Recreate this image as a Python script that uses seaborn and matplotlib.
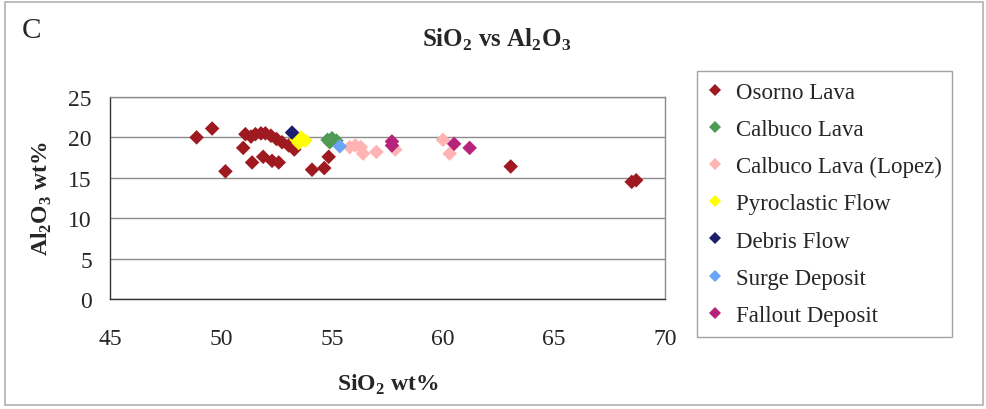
import matplotlib
matplotlib.use("Agg")
import matplotlib.pyplot as plt
import seaborn as sns
import pandas as pd
from matplotlib.patches import Rectangle

# ---- data ----
osorno_x = [48.9, 49.6, 50.2, 51.0, 51.1, 51.35, 51.55, 51.8, 52.0, 52.25, 52.5, 52.75,
            53.05, 53.3, 53.2, 51.4, 51.9, 52.3, 52.6, 54.1, 54.65, 54.85, 63.05, 68.5, 68.7]
osorno_y = [20.0, 21.1, 15.8, 18.7, 20.4, 20.1, 20.4, 20.5, 20.5, 20.2, 19.8, 19.4,
            19.0, 18.5, 19.2, 16.9, 17.6, 17.1, 16.9, 16.0, 16.2, 17.6, 16.4, 14.5, 14.7]
calbuco_x = [54.8, 55.0, 55.2, 54.9]
calbuco_y = [19.7, 19.9, 19.6, 19.4]
lopez_x = [55.8, 56.05, 56.3, 56.4, 57.0, 57.85, 60.0, 60.3]
lopez_y = [18.8, 19.0, 18.8, 18.0, 18.2, 18.5, 19.7, 18.0]
pyro_x = [53.4, 53.6, 53.8, 53.5]
pyro_y = [19.7, 20.0, 19.6, 19.3]
debris_x = [53.2]
debris_y = [20.6]
surge_x = [55.35]
surge_y = [18.9]
fallout_x = [57.7, 57.7, 60.5, 61.2]
fallout_y = [19.5, 19.0, 19.2, 18.7]

series = ["Osorno Lava", "Calbuco Lava", "Calbuco Lava (Lopez)", "Pyroclastic Flow",
          "Debris Flow", "Surge Deposit", "Fallout Deposit"]
colors = ["#9e1a20", "#4f9a55", "#ffb3b3", "#ffff00", "#1b1f6e", "#6aa6f5", "#b5237a"]
xs = [osorno_x, calbuco_x, lopez_x, pyro_x, debris_x, surge_x, fallout_x]
ys = [osorno_y, calbuco_y, lopez_y, pyro_y, debris_y, surge_y, fallout_y]

rows = []
for name, xv, yv in zip(series, xs, ys):
    for a, b in zip(xv, yv):
        rows.append({"SiO2": a, "Al2O3": b, "Series": name})
df = pd.DataFrame(rows)

sns.set_style("white")
plt.rcParams["font.family"] = ["Liberation Serif", "DejaVu Serif"]
plt.rcParams["mathtext.fontset"] = "custom"
plt.rcParams["mathtext.rm"] = "Liberation Serif"
plt.rcParams["mathtext.bf"] = "Liberation Serif:bold"

fig = plt.figure(figsize=(9.86, 4.10), dpi=100)
fig.patch.set_facecolor("white")
ax = fig.add_axes([110/986, 1-300/410, 555/986, 202/410])

sns.scatterplot(data=df, x="SiO2", y="Al2O3", hue="Series", hue_order=series,
                palette=dict(zip(series, colors)), marker="D", s=55,
                edgecolor="none", linewidth=0, ax=ax, legend=True, zorder=3)

ax.set_xlim(45, 70)
ax.set_ylim(0, 25)
ax.set_xticks([45, 50, 55, 60, 65, 70])
ax.set_yticks([0, 5, 10, 15, 20, 25])
ax.yaxis.grid(True, color="#8c8c8c", linewidth=1.0)
ax.xaxis.grid(False)
ax.set_axisbelow(True)
for s in ["top", "right"]:
    ax.spines[s].set_color("#8c8c8c")
    ax.spines[s].set_linewidth(1.0)
for s in ["left", "bottom"]:
    ax.spines[s].set_color("#333333")
    ax.spines[s].set_linewidth(1.0)
ax.tick_params(axis="x", direction="out", length=6, width=1, color="#333333",
               pad=15, labelsize=17)
ax.tick_params(axis="y", direction="out", length=5, width=1, color="#333333",
               pad=8, labelsize=17)
ax.set_xlabel(r"SiO$_\mathbf{2}$ wt%", fontsize=17, fontweight="bold", labelpad=16)
ax.set_ylabel(r"Al$_\mathbf{2}$O$_\mathbf{3}$ wt%", fontsize=17, fontweight="bold", labelpad=10)

h, l = ax.get_legend_handles_labels()
ax.get_legend().remove()
for hh in h:
    try:
        hh.set_markersize(6)
    except Exception:
        pass
leg = fig.legend(h, l, loc="upper left", bbox_to_anchor=(697/986, 1-72/410),
                 frameon=True, fancybox=False, edgecolor="#8c8c8c", fontsize=16.5,
                 handlelength=0.6, handletextpad=0.6, labelspacing=0.7,
                 borderpad=0.48, borderaxespad=0)
leg.get_frame().set_linewidth(1.0)

fig.text(497/986, 1-40/410, r"SiO$_\mathbf{2}$ vs Al$_\mathbf{2}$O$_\mathbf{3}$",
         ha="center", va="center", fontsize=18, fontweight="bold")
fig.text(22/986, 1-31/410, "C", ha="left", va="center", fontsize=21)

fig.patches.append(Rectangle((5/986, 4/410), 978/986, 403/410, transform=fig.transFigure,
                             fill=False, edgecolor="#b0b0b0", linewidth=1.2))

fig.savefig("out.png", dpi=100)
